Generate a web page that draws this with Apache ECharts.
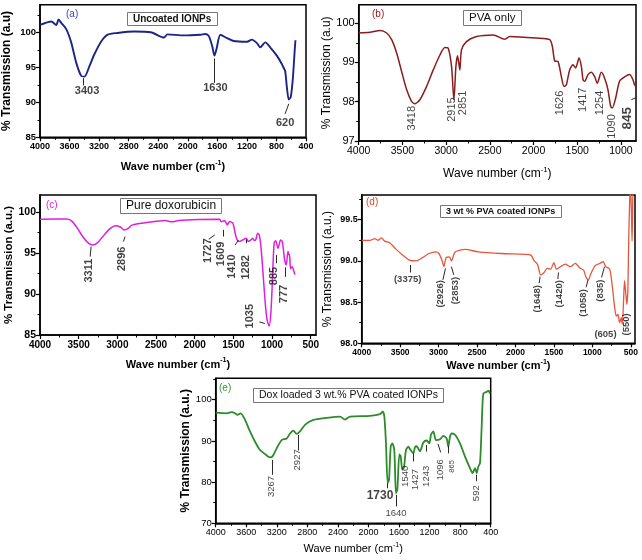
<!DOCTYPE html>
<html><head><meta charset="utf-8">
<script src="https://cdn.jsdelivr.net/npm/echarts@6/dist/echarts.min.js"></script>
<style>html,body{margin:0;padding:0;background:#fff}#c{width:642px;height:560px}</style>
</head><body><div id="c"></div>
<script>
// ---------- (a) Uncoated IONPs ----------
const aWave  = [4000,3847,3780,3749,3713,3645,3578,3510,3443,3398,3331,3264,3174,3084,2950,2725,2501,2321,2276,2052,1827,1760,1715,1670,1639,1612,1558,1468,1379,1199,1132,1064,1019,952,885,795,727,705,682,660,633,606,579,552,543];
const aTrans = [101.1,101.6,101.1,101.9,101.4,100.5,98.6,95.7,93.8,93.7,95.2,96.9,98.7,99.7,99.95,100.15,100.05,99.3,99.75,99.6,99.7,99.8,99.5,98.1,96.7,97.6,99.7,99.2,98.8,98.7,99.0,98.5,97.9,98.6,97.9,96.7,95.5,95.0,94.5,92.3,90.4,90.8,93.3,97.6,98.9];
const aLabels = [[3363,91.7,'3403',0],[1626,92.1,'1630',0],[683,87.0,'620',0]];
const aArrows = [[[3421,92.42],[3421,93.48]],[[1643,92.8],[1643,96.3]],[[683,88.36],[633,89.8]]];
const aXTicks = [4000,3600,3200,2800,2400,2000,1600,1200,800,400];
const aYTicks = [85,90,95,100];

// ---------- (b) PVA only ----------
const bWave  = [4000,3871,3756,3680,3623,3566,3509,3452,3395,3357,3300,3223,3147,3071,3014,2976,2938,2911,2888,2869,2843,2824,2767,2652,2462,2329,2272,1967,1815,1785,1758,1719,1682,1651,1625,1587,1549,1518,1480,1453,1434,1415,1377,1339,1301,1271,1225,1187,1149,1118,1099,1061,1016,958,901,863,844,828];
const bTrans = [99.75,99.77,99.81,99.75,99.58,99.24,98.77,98.31,98.01,97.95,98.05,98.39,98.81,99.19,99.38,99.36,98.90,98.05,98.9,99.17,98.81,99.32,99.53,99.66,99.70,99.59,99.66,99.62,99.58,99.41,99.04,99.02,98.64,98.39,98.43,98.81,98.94,98.86,99.11,98.9,98.56,98.52,98.69,98.75,98.64,98.47,98.75,98.6,98.31,97.88,97.84,98.09,98.52,98.63,98.69,98.56,98.43,98.4];
const bLabels = [[3395,97.58,'3418',1],[2938,97.8,'2915',1],[2812,97.97,'2851',1],[1693,97.97,'1626',1],[1434,98.05,'1417',1],[1244,97.97,'1254',1],[1103,97.37,'1090',1],[932,97.58,'845',3]];
const bArrows = [[[882,98.05],[832,98.1]]];
const bXTicks = [4000,3500,3000,2500,2000,1500,1000];
const bYTicks = [97,98,99,100];

// ---------- (c) Pure doxorubicin ----------
const cWave  = [4000,3659,3595,3531,3446,3382,3318,3254,3190,3105,3020,2956,2913,2870,2806,2593,2380,2295,2210,1954,1677,1656,1613,1579,1549,1506,1477,1451,1421,1378,1336,1306,1272,1251,1229,1208,1187,1165,1144,1123,1101,1080,1059,1037,1016,995,974,953,923,890,867,838,816,795,773,760,739,722,705];
const cTrans = [99.14,99.18,98.98,98.24,97.0,96.29,96.0,96.29,97.0,97.9,98.33,98.16,97.84,97.96,98.45,98.78,98.98,98.82,98.98,99.1,99.14,98.82,98.98,98.45,98.86,98.65,97.43,96.61,96.41,96.61,96.82,96.41,96.61,96.82,96.53,96.7,97.43,97.2,95.8,93.35,90.5,88.04,86.6,86.1,87.6,91.7,96.2,96.5,95.6,96.6,96.4,94.2,93.55,95.2,94.6,93.1,93.35,92.9,92.4];
const cLabels = [[3369,92.86,'3311',1],[2934,94.3,'2896',1],[1835,95.3,'1727',1],[1664,94.9,'1609',1],[1519,93.35,'1410',1],[1336,93.27,'1282',1],[1280,87.3,'1035',1],[974,92.2,'885',1],[846,90.0,'777',1]];
const cArrows = [[[3352,94.57],[3339,95.8]],[[2922,96.41],[2900,97.02]],[[1818,96.7],[1741,97.22]],[[1630,97.02],[1630,97.84]],[[1477,96.0],[1434,96.61]],[[1336,96.2],[1336,96.7]],[[1165,86.6],[1093,86.4]],[[944,93.76],[944,94.78]],[[829,92.1],[829,93.27]]];
const cXTicks = [4000,3500,3000,2500,2000,1500,1000,500];
const cYTicks = [85,90,95,100];

// ---------- (d) 3 wt % PVA coated IONPs ----------
const dWave  = [4000,3893,3829,3786,3744,3701,3637,3551,3466,3380,3295,3209,3124,3038,2996,2953,2932,2902,2859,2833,2782,2654,2483,2184,1885,1799,1756,1714,1671,1628,1585,1543,1500,1466,1415,1350,1286,1222,1158,1115,1081,1051,1021,966,902,859,825,774,739,709,688,667,645,624,611,594,581,568,551,538,530,517,504,491,483,470,461];
const dTrans = [99.25,99.25,99.27,99.25,99.28,99.24,99.22,99.14,99.07,99.01,99.0,99.04,99.09,99.11,99.09,99.0,98.93,99.04,99.05,99.0,99.11,99.14,99.11,99.09,99.08,99.07,99.0,98.96,98.83,98.86,98.91,98.9,98.98,98.9,98.93,98.96,98.93,98.97,98.91,98.89,98.8,98.77,98.84,98.94,98.97,98.99,98.93,98.9,98.68,98.43,98.33,98.35,98.25,98.31,98.23,98.51,98.76,98.64,98.47,98.64,99.08,99.65,99.9,99.57,99.24,99.9,99.9];
const dLabels = [[3402,98.77,'(3375)',0],[2974,98.6,'(2926)',1],[2782,98.64,'(2853)',1],[1714,98.54,'(1648)',1],[1427,98.6,'(1420)',1],[1115,98.49,'(1058)',1],[893,98.64,'(835)',1],[829,98.11,'(605)',0],[560,98.23,'(550)',1]];
const dArrows = [[[3368,98.86],[3368,98.95]],[[2944,98.77],[2910,98.91]],[[2803,98.83],[2833,98.93]],[[1692,98.73],[1679,98.81]],[[1449,98.78],[1440,98.86]],[[1081,98.68],[1056,98.77]],[[880,98.8],[842,98.93]]];
const dXTicks = [4000,3500,3000,2500,2000,1500,1000,500];
const dYTicks = [98.0,98.5,99.0,99.5];

// ---------- (e) Dox loaded 3 wt.% PVA coated IONPs ----------
const eWave  = [4000,3856,3791,3747,3716,3673,3616,3551,3485,3420,3354,3289,3254,3202,3136,3071,3027,2983,2940,2896,2831,2722,2547,2373,2307,2242,1980,1849,1814,1792,1771,1749,1731,1709,1688,1662,1640,1622,1596,1579,1557,1535,1509,1478,1456,1413,1391,1369,1326,1282,1238,1203,1182,1151,1116,1064,1020,977,955,933,911,867,802,736,671,636,606,584,562,540,518,497,453,431,409];
const eTrans = [96.85,96.7,97.0,96.7,96.3,96.7,95.1,92.3,89.8,87.8,86.8,86.0,86.3,88.2,90.2,90.6,91.8,92.5,91.7,92.3,93.9,95.1,95.6,95.9,95.2,95.9,96.1,96.5,97.1,95.9,89.4,79.8,80.6,88.6,89.4,87.8,77.3,78.2,86.7,86.3,83.0,83.6,87.8,88.6,88.0,87.0,88.5,88.7,87.5,89.6,90.1,89.4,91.5,92.3,90.2,90.4,91.2,90.6,88.6,91.0,91.8,91.5,89.4,86.2,83.4,82.2,83.4,82.2,83.8,84.6,93.5,101.5,101.9,102.2,101.5];
const eLabels = [[3267,78.95,'3267',1],[2927,85.4,'2927',1],[1849,76.7,'1730',2],[1640,72.3,'1640',0],[1522,81.4,'1540',1],[1391,80.6,'1427',1],[1238,81.4,'1243',1],[1064,83.0,'1096',1],[911,83.8,'865',4],[592,77.3,'592',1]];
const eArrows = [[[3254,85.4],[3254,81.8]],[[2914,91.45],[2914,87.66]],[[1753,78.5],[1753,79.76]],[[1640,74.1],[1640,76.9]],[[1413,87.0],[1413,85.0]],[[1238,89.0],[1238,87.4]],[[1090,89.3],[1055,87.2]],[[950,88.8],[950,87.0]],[[592,80.2],[592,81.8]]];
const eXTicks = [4000,3600,3200,2800,2400,2000,1600,1200,800,400];
const eYTicks = [70,80,90,100];

const FONT = '"Liberation Sans", Arial, sans-serif';
const XNAME = 'Wave number (cm{s|-1})';

const panels = [
  {grid:{left:38.7,top:4.7,width:267.3,height:132.6}, xmin:400,xmax:4000, ymin:85,ymax:104,
   xticks:aXTicks,yticks:aYTicks,wave:aWave,trans:aTrans,labels:aLabels,arrows:aArrows,color:'#1c2585',lw:1.9,
   tickFont:9,tickBold:'bold',yname:'% Transmission (a.u)',ynameGap:27,ynameSize:12,ynameBold:'bold',
   xnameGap:22,xnameSize:11,xnameBold:'bold',annSize:11,annBold:'bold',yfmt:v=>String(v)},
  {grid:{left:358.7,top:4.7,width:277.3,height:136.3}, xmin:828,xmax:4000, ymin:97,ymax:100.47,
   xticks:bXTicks,yticks:bYTicks,wave:bWave,trans:bTrans,labels:bLabels,arrows:bArrows,color:'#8a1c1c',lw:1.5,
   tickFont:10.5,tickBold:'normal',yname:'% Transmission (a.u)',ynameGap:24,ynameSize:12,ynameBold:'normal',
   xnameGap:25,xnameSize:12,xnameBold:'normal',annSize:11,annBold:'normal',yfmt:v=>String(v)},
  {grid:{left:40,top:195,width:276,height:140}, xmin:432,xmax:4000, ymin:85,ymax:102.1,
   xticks:cXTicks,yticks:cYTicks,wave:cWave,trans:cTrans,labels:cLabels,arrows:cArrows,color:'#e01ee0',lw:1.5,
   tickFont:10,tickBold:'bold',yname:'% Transmission (a.u.)',ynameGap:25,ynameSize:11.5,ynameBold:'bold',
   xnameGap:22,xnameSize:11,xnameBold:'bold',annSize:11,annBold:'bold',yfmt:v=>String(v)},
  {grid:{left:361.7,top:195,width:273.3,height:148.3}, xmin:445,xmax:4000, ymin:98.0,ymax:99.8,
   xticks:dXTicks,yticks:dYTicks,wave:dWave,trans:dTrans,labels:dLabels,arrows:dArrows,color:'#e8553a',lw:1.3,
   tickFont:8.5,tickBold:'bold',yname:'% Transmission (a.u.)',ynameGap:28,ynameSize:12,ynameBold:'normal',
   xnameGap:12,xnameSize:11,xnameBold:'bold',annSize:9.5,annBold:'bold',yfmt:v=>v.toFixed(1)},
  {grid:{left:215.7,top:378.3,width:275,height:145}, xmin:400,xmax:4000, ymin:70,ymax:105.2,
   xticks:eXTicks,yticks:eYTicks,wave:eWave,trans:eTrans,labels:eLabels,arrows:eArrows,color:'#2e8b2a',lw:1.8,
   tickFont:9,tickBold:'normal',yname:'% Transmission (a.u.)',ynameGap:17,ynameSize:12,ynameBold:'bold',
   xnameGap:18,xnameSize:11,xnameBold:'normal',annSize:9.5,annBold:'normal',yfmt:v=>String(v)}
];

function mids(arr){const m=[];for(let k=0;k<arr.length-1;k++)m.push((arr[k]+arr[k+1])/2);return m;}

// label kind: 0 horizontal, 1 vertical, 2 horizontal emphasised, 3 vertical emphasised, 4 vertical small
function labelStyle(kind, p){
  const rot = (kind===1||kind===3||kind===4)?90:0;
  let size=p.annSize, weight=p.annBold;
  if(kind===2||kind===3){size=p.annSize+2.5;weight='bold';}
  if(kind===4){size=p.annSize-2;}
  return {rotate:rot,fontSize:size,fontWeight:weight};
}

const grids=[], xAxes=[], yAxes=[], series=[];
panels.forEach((p,i)=>{
  grids.push(Object.assign({show:true,borderColor:'#000',borderWidth:1.5,backgroundColor:'transparent',containLabel:false},p.grid));
  const xi = xAxes.length, yi = yAxes.length;
  xAxes.push({gridIndex:i,type:'value',inverse:true,min:p.xmin,max:p.xmax,
    axisLine:{onZero:false,lineStyle:{color:'#000',width:1.5}},
    axisTick:{length:4,customValues:p.xticks,lineStyle:{color:'#000',width:1.2}},
    splitLine:{show:false},
    axisLabel:{color:'#000',fontSize:p.tickFont,fontWeight:p.tickBold,fontFamily:FONT,margin:5,customValues:p.xticks,formatter:v=>String(v)},
    name:XNAME,nameLocation:'middle',nameGap:p.xnameGap,
    nameTextStyle:{color:'#000',fontSize:p.xnameSize,fontWeight:p.xnameBold,fontFamily:FONT,lineHeight:16,
      rich:{s:{fontSize:p.xnameSize*0.65,fontWeight:p.xnameBold,fontFamily:FONT,verticalAlign:'top',lineHeight:8,color:'#000'}}}
  });
  const xm = p.xticks.slice(); if (p.xmin < xm[xm.length-1]) xm.push(xm[xm.length-1]-(xm[0]-xm[1]));
  xAxes.push({gridIndex:i,type:'value',inverse:true,min:p.xmin,max:p.xmax,position:'bottom',
    axisLine:{show:false},splitLine:{show:false},axisLabel:{show:false},
    axisTick:{length:2.5,customValues:mids(xm).filter(v=>v>p.xmin),lineStyle:{color:'#000',width:1}}});
  yAxes.push({gridIndex:i,type:'value',min:p.ymin,max:p.ymax,
    axisLine:{onZero:false,lineStyle:{color:'#000',width:1.5}},
    axisTick:{length:4,customValues:p.yticks,lineStyle:{color:'#000',width:1.2}},
    splitLine:{show:false},
    axisLabel:{color:'#000',fontSize:p.tickFont+0.5,fontWeight:p.tickBold,fontFamily:FONT,margin:4,customValues:p.yticks,formatter:p.yfmt},
    name:p.yname,nameLocation:'middle',nameGap:p.ynameGap,
    nameTextStyle:{color:'#000',fontSize:p.ynameSize,fontWeight:p.ynameBold,fontFamily:FONT}
  });
  const ym = p.yticks.slice(); ym.push(ym[ym.length-1]+(ym[1]-ym[0]));
  yAxes.push({gridIndex:i,type:'value',min:p.ymin,max:p.ymax,position:'left',
    axisLine:{show:false},splitLine:{show:false},axisLabel:{show:false},
    axisTick:{length:2.5,customValues:mids(ym).filter(v=>v<p.ymax),lineStyle:{color:'#000',width:1}}});
  series.push({type:'line',xAxisIndex:xi,yAxisIndex:yi,data:p.wave.map((w,k)=>[w,p.trans[k]]),
    showSymbol:false,symbol:'none',smooth:0.25,clip:true,lineStyle:{color:p.color,width:p.lw},animation:false,silent:true});
  series.push({type:'scatter',xAxisIndex:xi,yAxisIndex:yi,symbolSize:1,itemStyle:{color:'rgba(0,0,0,0)'},animation:false,silent:true,z:5,
    data:p.labels.map(l=>({value:[l[0],l[1]],name:l[2],label:labelStyle(l[3],p)})),
    label:{show:true,position:'inside',formatter:'{b}',color:'#111',fontSize:p.annSize,fontWeight:p.annBold,fontFamily:FONT},
    labelLayout:{hideOverlap:false},
    markLine:{silent:true,animation:false,symbol:['none','arrow'],symbolSize:[0,5],
      lineStyle:{color:'#111',width:0.9,type:'solid'},label:{show:false},
      data:p.arrows.map(a=>[{coord:a[0]},{coord:a[1]}])}
  });
});

const boxes = [
  {text:'Uncoated IONPs',left:127,top:12,size:10,bold:'bold'},
  {text:'PVA only',left:463,top:10,size:11.5,bold:'normal'},
  {text:'Pure doxorubicin',left:120,top:198,size:12,bold:'normal'},
  {text:'3 wt % PVA coated IONPs',left:440,top:205,size:9,bold:'bold'},
  {text:'Dox loaded 3 wt.% PVA coated IONPs',left:253,top:388,size:10.5,bold:'normal'}
];
const letters = [
  {text:'(a)',left:66,top:9,color:'#3a3acc'},
  {text:'(b)',left:372,top:9,color:'#a01818'},
  {text:'(c)',left:46,top:200,color:'#e01ee0'},
  {text:'(d)',left:366,top:197,color:'#e0452a'},
  {text:'(e)',left:219,top:383,color:'#2e9b2a'}
];
const titles = boxes.map(b=>({text:b.text,left:b.left,top:b.top,borderColor:'#777',borderWidth:1,padding:[2,6],
  textStyle:{fontSize:b.size,fontWeight:b.bold,fontFamily:FONT,color:'#111'}}))
 .concat(letters.map(l=>({text:l.text,left:l.left,top:l.top,padding:0,textStyle:{fontSize:10,fontWeight:'normal',fontFamily:FONT,color:l.color}})));

const chart = echarts.init(document.getElementById('c'),null,{renderer:'canvas'});
chart.setOption({animation:false,backgroundColor:'#fff',title:titles,grid:grids,xAxis:xAxes,yAxis:yAxes,series:series});
</script></body></html>
